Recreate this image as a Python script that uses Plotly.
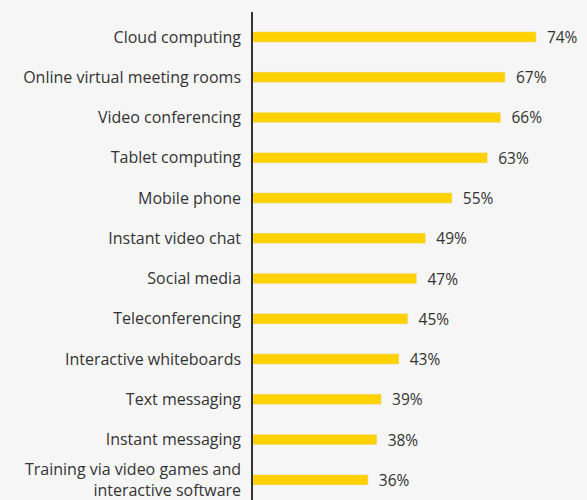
import plotly.graph_objects as go

categories = [
    "Cloud computing",
    "Online virtual meeting rooms",
    "Video conferencing",
    "Tablet computing",
    "Mobile phone",
    "Instant video chat",
    "Social media",
    "Teleconferencing",
    "Interactive whiteboards",
    "Text messaging",
    "Instant messaging",
    "Training via video games and<br>interactive software",
]
values = [74, 67, 66, 63, 55, 49, 47, 45, 43, 39, 38, 36]
labels = [f"{v}%" for v in values]

fig = go.Figure(
    go.Bar(
        x=values,
        y=categories,
        orientation="h",
        marker_color="#FFD100",
        width=0.26,
        text=labels,
        texttemplate="\u2002%{text}",  # small gap between bar end and label
        textposition="outside",
        constraintext="none",
        textfont=dict(size=15.5, color="#333333", family="Open Sans"),
        cliponaxis=False,
    )
)

fig.update_layout(
    width=587,
    height=500,
    margin=dict(l=253, r=0, t=12, b=0, autoexpand=False),
    paper_bgcolor="#f6f6f6",
    plot_bgcolor="#f6f6f6",
    showlegend=False,
    font=dict(family="Open Sans", color="#333333"),
)

fig.update_xaxes(range=[10, 85.5], visible=False, automargin=False)
# reversed category range, a little extra room above the first bar
fig.update_yaxes(
    range=[11.5, -0.62],
    automargin=False,
    showline=True,
    linecolor="#333333",
    linewidth=1.5,
    showgrid=False,
    ticks="",
    ticklabelstandoff=7,
    tickfont=dict(size=16, color="#333333", family="Open Sans"),
)

# page body has a default 8px margin; drop it so the chart sits at 0,0
fig.write_html(
    "out.html",
    config={"displayModeBar": False},
    post_script="document.body.style.margin='0';document.body.style.background='#f6f6f6';",
)
